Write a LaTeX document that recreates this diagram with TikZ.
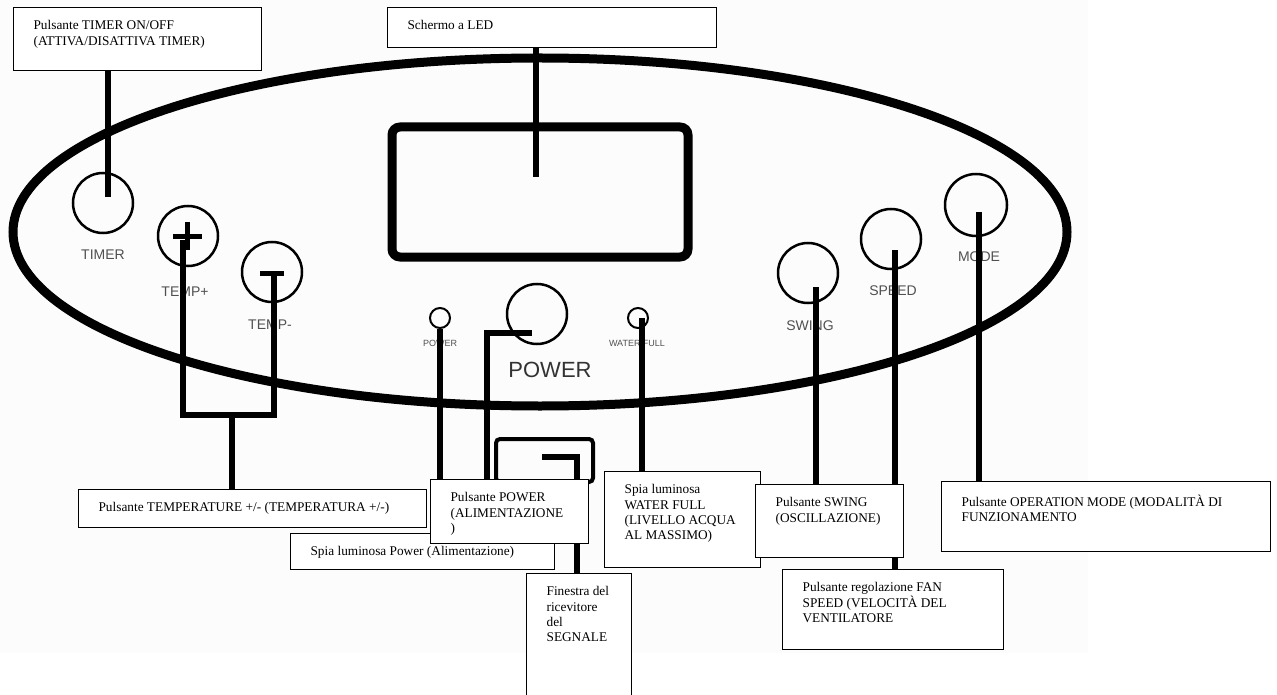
\documentclass[tikz,border=0pt]{standalone}
\usepackage{fontspec}
\setmainfont{Liberation Serif}
\setsansfont{Liberation Sans}
\usepackage{tikz}
\usetikzlibrary{calc}
\definecolor{panelwash}{RGB}{252,252,252}
\definecolor{printgray}{RGB}{80,80,80}
\pgfdeclarelayer{back}
\pgfsetlayers{back,main}
\tikzset{
	callout/.style={draw=black, line width=1.2pt, fill=white, anchor=north west, inner xsep=20pt, inner ysep=13pt, font=\fontsize{13.3}{15.3}\selectfont},
	pointer/.style={draw=black, line width=5.5pt},
	knob/.style={draw=black, circle, line width=2.5pt, inner sep=0pt, minimum size=60pt},
	lamp/.style={draw=black, circle, line width=2pt, inner sep=0pt, minimum size=20pt},
	silk/.style={text=printgray, inner sep=0pt, font=\sffamily\fontsize{14}{14}\selectfont},
	tinysilk/.style={text=printgray, inner sep=0pt, font=\sffamily\fontsize{9}{9}\selectfont},
}
\newcommand{\calltext}[3]{\parbox[t][#2][t]{#1}{\raggedright #3}}

\begin{document}
\begin{tikzpicture}[x=1pt, y=-1pt]
	\useasboundingbox (0,0) rectangle (1277,695);
	% callout boxes
	\node[callout] (tempbox) at (78,489) {\calltext{308pt}{12pt}{Pulsante TEMPERATURE +/- (TEMPERATURA +/-)}};
	\node[callout] (spiabox) at (290,533) {\calltext{224pt}{10pt}{Spia luminosa Power (Alimentazione)}};
	\node[callout] (pwrbox) at (430,479) {\calltext{118pt}{38pt}{Pulsante POWER\\(ALIMENTAZIONE\\)}};
	\node[callout] (finbox) at (526,573) {\calltext{65pt}{106pt}{Finestra del\\ricevitore\\del\\SEGNALE}};
	\node[callout] (waterbox) at (604,471) {\calltext{116pt}{70pt}{Spia luminosa\\WATER FULL\\(LIVELLO ACQUA\\AL MASSIMO)}};
	\node[callout] (swingbox) at (755,484) {\calltext{108pt}{47pt}{Pulsante SWING\\(OSCILLAZIONE)}};
	\node[callout] (fanbox) at (782,569) {\calltext{181pt}{54pt}{Pulsante regolazione FAN\\SPEED (VELOCITÀ DEL\\VENTILATORE}};
	\node[callout] (modebox) at (941,481) {\calltext{289pt}{44pt}{Pulsante OPERATION MODE (MODALITÀ DI\\FUNZIONAMENTO}};
	\node[callout] (timerbox) at (13,7) {\calltext{208pt}{37pt}{Pulsante TIMER ON/OFF\\(ATTIVA/DISATTIVA TIMER)}};
	\node[callout] (ledbox) at (387,7) {\calltext{289pt}{14pt}{Schermo a LED}};
\begin{pgfonlayer}{back}
	\fill[panelwash] (0,0) rectangle (1088,653);
	% panel
	\draw[line width=9pt] (540,232) ellipse [x radius=527pt, y radius=174pt];
	\draw[line width=9pt, rounded corners=8pt] (392,127) rectangle (688,257);
	\draw[line width=4pt, rounded corners=4pt] (496,439) rectangle (593,482);
	\node[knob] (timer) at (103,203) {};
	\node[knob] (tplus) at (188,236) {};
	\node[knob] (tminus) at (272,272) {};
	\node[knob] (power) at (537,314) {};
	\node[knob] (swing) at (808,273) {};
	\node[knob] (speed) at (891,239) {};
	\node[knob, minimum size=62pt] (mode) at (976,205) {};
	\node[lamp] (pled) at (440,318) {};
	\node[lamp] (wled) at (638,318) {};
	\draw[line width=5pt] (173,237) -- (202,237) (187,222) -- (187,250);
	\draw[line width=5pt] (260,273) -- (284,273);
	\node[silk] (timerlbl) at (103,255) {TIMER};
	\node[silk] (tpluslbl) at (185,292) {TEMP+};
	\node[silk] (tminuslbl) at (270,325) {TEMP-};
	\node[silk] (swinglbl) at (810,326) {SWING};
	\node[silk] (speedlbl) at (893,291) {SPEED};
	\node[silk] (modelbl) at (979,257) {MODE};
	\node[tinysilk] (pledlbl) at (440,343) {POWER};
	\node[tinysilk] (wledlbl) at (637,343) {WATER FULL};
	\node[text=black!80, inner sep=0pt, font=\sffamily\fontsize{22}{22}\selectfont] (powerlbl) at (550,370) {POWER};
	% pointers
	\coordinate (tmtip) at (108,197);
	\coordinate (ledtip) at (536,177);
	\coordinate (tptip) at (183,240);
	\coordinate (tmntip) at (274,273);
	\coordinate (tbend) at (232,415);
	\coordinate (pwrtip) at (532,333);
	\coordinate (pwrbend) at (487,333);
	\coordinate (rxtip) at (542,457);
	\coordinate (rxbend) at (577,457);
	\coordinate (wtip) at (642,318);
	\coordinate (swtip) at (816,287);
	\coordinate (sptip) at (895,250);
	\coordinate (motip) at (979,212);
	\draw[pointer] (tmtip |- timerbox.south) -- (tmtip);
	\draw[pointer] (ledtip |- ledbox.south) -- (ledtip);
	\draw[pointer] (tptip) -- (tptip |- tbend) -- (tmntip |- tbend) -- (tmntip);
	\draw[pointer] (tbend) -- (tbend |- tempbox.north);
	\draw[pointer] (pled) -- (pled |- spiabox.north);
	\draw[pointer] (pwrtip) -- (pwrbend) -- (pwrbend |- pwrbox.north);
	\draw[pointer] (rxtip) -- (rxbend) -- (rxbend |- finbox.north);
	\draw[pointer] (wtip) -- (wtip |- waterbox.north);
	\draw[pointer] (swtip) -- (swtip |- swingbox.north);
	\draw[pointer] (sptip) -- (sptip |- fanbox.north);
	\draw[pointer] (motip) -- (motip |- modebox.north);
\end{pgfonlayer}
\end{tikzpicture}
\end{document}
